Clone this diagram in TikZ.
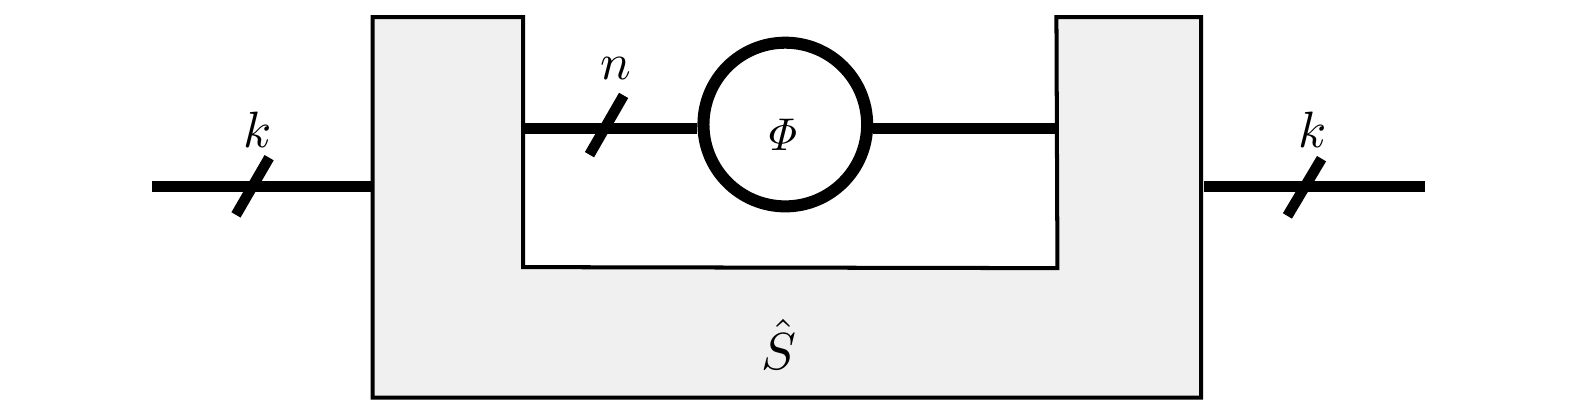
\documentclass[tikz,border=0pt]{standalone}
\tikzset{wire/.style={line width=11*0.48bp},
  tick/.style={line width=10.5*0.48bp},
  ushape/.style={draw=black,fill=black!6,line width=4*0.48bp},
  lab/.style={inner sep=0pt}}
\begin{document}
\begin{tikzpicture}[x=0.48bp,y=-0.48bp]
\useasboundingbox (0,0) rectangle (1568.4,411.3);
\draw[ushape] (371,17) -- (521,17) -- (521,266) -- (1053,267) -- (1052,17) -- (1196,17) -- (1196,396) -- (371,396) -- cycle;
\node[draw,circle,line width=12*0.48bp,minimum size=163*0.48bp,inner sep=0pt] (phi) at (782,124) {};
\node[lab,scale=2.2] (philab) at (777,134) {$\mathit{\Phi}$};
\node[lab,scale=2.5] (shat) at (776,343) {$\hat{S}$};
\coordinate (a1) at (151,186); \coordinate (a2) at (371,186);
\coordinate (b1) at (521,128);
\coordinate (c2) at (1052,128);
\coordinate (d1) at (1199,186); \coordinate (d2) at (1419,186);
\draw[wire] (a1) -- (a2);
\draw[wire] (b1) -- (b1 -| phi.west);
\draw[wire] (phi.east |- c2) -- (c2);
\draw[wire] (d1) -- (d2);
\coordinate (t1a) at (235,214); \coordinate (t1b) at (268,157);
\coordinate (t2a) at (587,154); \coordinate (t2b) at (621,95);
\coordinate (t3a) at (1282,215); \coordinate (t3b) at (1316,158);
\draw[tick] (t1a) -- (t1b);
\draw[tick] (t2a) -- (t2b);
\draw[tick] (t3a) -- (t3b);
\node[lab,scale=2.45] (k1) at (257,129) {$k$};
\node[lab,scale=2.45] (n) at (613,68) {$n$};
\node[lab,scale=2.45] (k2) at (1307,129) {$k$};
\end{tikzpicture}
\end{document}
